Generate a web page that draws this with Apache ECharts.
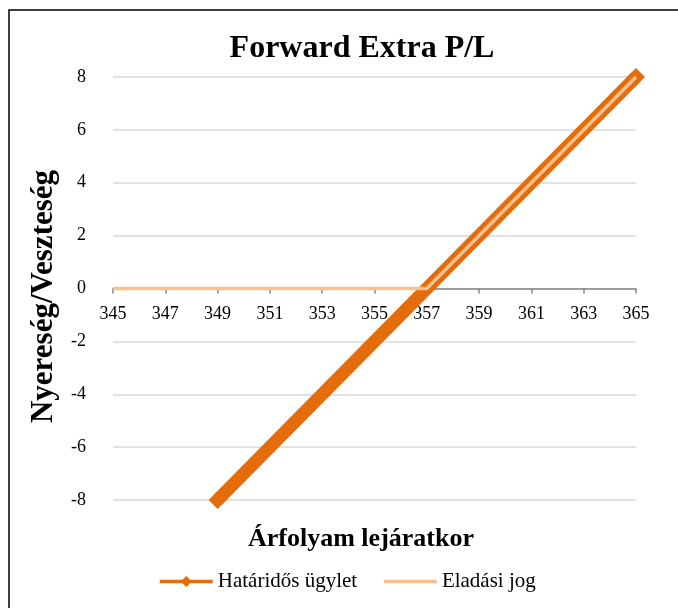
<!DOCTYPE html>
<html>
<head>
<meta charset="utf-8">
<script src="https://cdn.jsdelivr.net/npm/echarts@6/dist/echarts.min.js"></script>
<style>
  html, body { margin: 0; padding: 0; background: #fff; }
  #chart { width: 678px; height: 608px; }
</style>
</head>
<body>
<div id="chart"></div>
<script>
// Payoff of the forward deal and of the put-like leg at expiry
const forwardPrices = [349, 365];
const forwardPL = [-8, 8];
const putPrices = [345, 357, 365];
const putPL = [0, 0, 8];

const seriesNames = ['Határidős ügylet', 'Eladási jog'];
const titleText = 'Forward Extra P/L';
const xAxisName = 'Árfolyam lejáratkor';
const yAxisName = 'Nyereség/Veszteség';

const serif = '"Liberation Serif", "Times New Roman", serif';

const pairs = (xs, ys) => xs.map((x, i) => [x, ys[i]]);

const chart = echarts.init(document.getElementById('chart'), null, { renderer: 'canvas' });

chart.setOption({
  backgroundColor: '#fff',
  animation: false,
  title: {
    text: titleText,
    left: 357,
    top: 28,
    textAlign: 'center',
    textStyle: { fontFamily: serif, fontSize: 32, fontWeight: 'bold', color: '#000' }
  },
  graphic: [{
    type: 'rect',
    shape: { x: 9, y: 10, width: 700, height: 620 },
    style: { fill: null, stroke: '#000', lineWidth: 1.5 },
    silent: true,
    z: -1
  }],
  grid: {
    left: 113, right: 42, top: 77, bottom: 108,
    containLabel: false,
    outerBoundsMode: 'none'
  },
  legend: {
    top: 566,
    left: 153,
    itemGap: 25,
    itemWidth: 53,
    itemHeight: 14,
    textStyle: { fontFamily: serif, fontSize: 21, color: '#000' },
    lineStyle: { width: 3.5 },
    data: [
      { name: seriesNames[0] },
      { name: seriesNames[1], itemStyle: { opacity: 0 } }
    ]
  },
  xAxis: {
    type: 'value',
    min: 345,
    max: 365,
    interval: 2,
    name: xAxisName,
    nameLocation: 'middle',
    nameGap: 238,
    nameTextStyle: {
      fontFamily: serif, fontSize: 26, fontWeight: 'bold', color: '#000',
      padding: [0, 27, 0, 0]
    },
    axisLine: { onZero: false, lineStyle: { color: '#868686', width: 1.5 } },
    axisTick: { show: true, length: 5, lineStyle: { color: '#868686', width: 1.5 } },
    axisLabel: { fontFamily: serif, fontSize: 18, color: '#000', margin: 17 },
    splitLine: { show: false }
  },
  yAxis: {
    type: 'value',
    min: -8,
    max: 8,
    interval: 2,
    name: yAxisName,
    nameLocation: 'middle',
    nameGap: 54,
    nameRotate: 90,
    nameTextStyle: {
      fontFamily: serif, fontSize: 31, fontWeight: 'bold', color: '#000',
      padding: [0, 16, 0, 0]
    },
    axisLine: { show: false },
    axisTick: { show: false },
    axisLabel: { fontFamily: serif, fontSize: 18, color: '#000', margin: 27 },
    splitLine: { lineStyle: { color: '#d9d9d9', width: 1.5 } }
  },
  series: [
    {
      name: seriesNames[0],
      type: 'line',
      data: pairs(forwardPrices, forwardPL),
      symbol: 'diamond',
      symbolSize: 18,
      showSymbol: true,
      lineStyle: { color: '#E46C0A', width: 13 },
      itemStyle: { color: '#E46C0A' },
      z: 2
    },
    {
      name: seriesNames[1],
      type: 'line',
      data: pairs(putPrices, putPL),
      symbol: 'none',
      lineStyle: { color: '#FAC08F', width: 3.5 },
      itemStyle: { color: '#FAC08F' },
      z: 3
    }
  ]
});

// Lift the category axis (line, ticks, labels) up to the zero level of the value axis
const yMin = chart.getModel().getComponent('yAxis', 0).axis.scale.getExtent()[0];
const zeroY = chart.convertToPixel({ yAxisIndex: 0 }, 0);
const bottomY = chart.convertToPixel({ yAxisIndex: 0 }, yMin);
chart.setOption({ xAxis: { offset: zeroY - bottomY } });
</script>
</body>
</html>
